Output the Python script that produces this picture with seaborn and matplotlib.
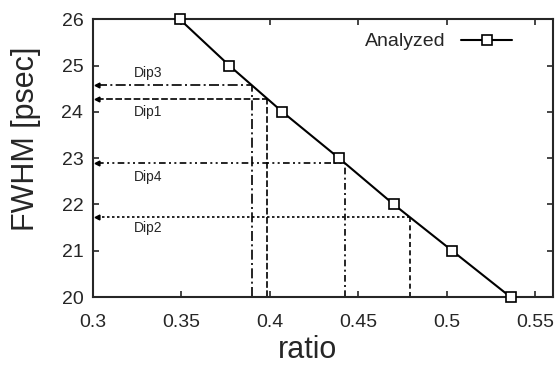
import matplotlib
matplotlib.use("Agg")
import matplotlib.pyplot as plt
import seaborn as sns
import pandas as pd

# Data
ratio = [0.349, 0.377, 0.407, 0.439, 0.470, 0.503, 0.536]
fwhm = [26, 25, 24, 23, 22, 21, 20]

dip_names = ["Dip3", "Dip1", "Dip4", "Dip2"]
dip_ratio = [0.3897, 0.3985, 0.4424, 0.4791]
dip_fwhm = [24.58, 24.27, 22.89, 21.72]
dip_label_y = [24.84, 24.00, 22.60, 21.50]
dip_styles = [(0, (6, 2, 1.2, 2)), (0, (4, 1.5)), (0, (4, 2, 1.2, 2, 1.2, 2)), (0, (1.5, 1.5))]
dip_vstyles = [(0, (6, 2, 1.2, 2)), (0, (4, 1.5)), (0, (4, 2, 1.2, 2)), (0, (3, 2))]

xticks = [0.3, 0.35, 0.4, 0.45, 0.5, 0.55]
xticklabels = ["0.3", "0.35", "0.4", "0.45", "0.5", "0.55"]
yticks = [20, 21, 22, 23, 24, 25, 26]

sns.set_style("ticks")
plt.rcParams["font.family"] = ["Liberation Sans", "DejaVu Sans"]
plt.rcParams["xtick.direction"] = "in"
plt.rcParams["ytick.direction"] = "in"

fig, ax = plt.subplots(figsize=(5.57, 3.70), dpi=100)
fig.subplots_adjust(left=0.167, right=0.993, top=0.948, bottom=0.197)

df = pd.DataFrame({"ratio": ratio, "fwhm": fwhm})
sns.lineplot(data=df, x="ratio", y="fwhm", ax=ax, color="black", linewidth=1.5,
             marker="s", markersize=7.5, markerfacecolor="white",
             markeredgecolor="black", markeredgewidth=1.2, label="Analyzed",
             zorder=5, clip_on=False)

xmin, ymin = 0.3, 20
for name, xr, yf, ly, hs, vs in zip(dip_names, dip_ratio, dip_fwhm, dip_label_y,
                                     dip_styles, dip_vstyles):
    ax.plot([xmin + 0.002, xr], [yf, yf], color="black", linewidth=1.2, linestyle=hs)
    ax.plot([xr, xr], [ymin, yf], color="black", linewidth=1.2, linestyle=vs)
    ax.plot([xmin + 0.0025], [yf], marker="<", color="black", markersize=3.5,
            linestyle="none")
    ax.text(0.331, ly, name, fontsize=10, ha="center", va="center")

ax.set_xlim(0.3, 0.56)
ax.set_ylim(20, 26)
ax.set_xticks(xticks)
ax.set_xticklabels(xticklabels)
ax.set_yticks(yticks)
ax.tick_params(axis="both", which="major", labelsize=14, length=4, width=1.2,
               top=True, right=True, pad=7)
ax.tick_params(axis="x", pad=12)
for sp in ax.spines.values():
    sp.set_linewidth(1.5)
    sp.set_visible(True)

ax.set_xlabel("ratio", fontsize=22)
ax.set_ylabel("FWHM [psec]", fontsize=22)
ax.xaxis.set_label_coords(0.467, -0.137)
ax.yaxis.set_label_coords(-0.113, 0.57)

ax.legend(loc="upper right", frameon=False, markerfirst=False, fontsize=14,
          handlelength=2.6, borderaxespad=0.3, bbox_to_anchor=(0.94, 1.0))

fig.savefig("out.png", dpi=100)
